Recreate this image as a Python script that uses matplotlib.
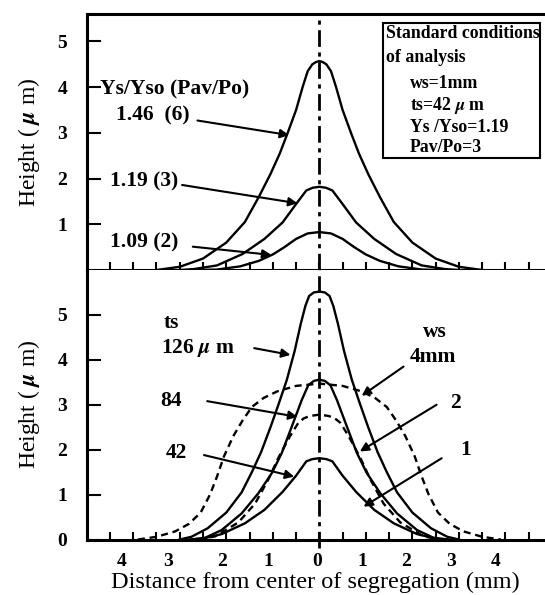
import matplotlib
matplotlib.use('Agg')
import matplotlib.pyplot as plt
from matplotlib.patches import Rectangle

plt.rcParams['font.family'] = ['Liberation Serif', 'DejaVu Serif']
plt.rcParams['font.weight'] = 'bold'
plt.rcParams['mathtext.fontset'] = 'stix'

# ---------------- data ----------------
# Top panel: effect of Ys/Yso (Pav/Po)
top_x_146 = [-3.5, -3.0, -2.5, -2.0, -1.6, -1.3, -1.05, -0.85, -0.68, -0.5, -0.36, -0.25, -0.15, -0.07, 0.0,
             0.07, 0.15, 0.25, 0.36, 0.5, 0.68, 0.85, 1.05, 1.3, 1.6, 2.0, 2.5, 3.0, 3.5]
top_y_146 = [0.0, 0.07, 0.25, 0.6, 1.05, 1.6, 2.1, 2.55, 3.0, 3.5, 4.0, 4.35, 4.5, 4.55, 4.57,
             4.55, 4.5, 4.35, 4.0, 3.5, 3.0, 2.55, 2.1, 1.6, 1.05, 0.6, 0.25, 0.07, 0.0]

top_x_119 = [-3.0, -2.7, -2.2, -1.65, -1.18, -0.79, -0.48, -0.28, -0.14, 0.0,
             0.14, 0.28, 0.48, 0.79, 1.18, 1.65, 2.2, 2.7, 3.0]
top_y_119 = [0.0, 0.02, 0.1, 0.35, 0.68, 1.04, 1.47, 1.74, 1.8, 1.82,
             1.8, 1.74, 1.47, 1.04, 0.68, 0.35, 0.1, 0.02, 0.0]

top_x_109 = [-2.6, -2.2, -1.7, -1.3, -1.0, -0.75, -0.5, -0.25, 0.0,
             0.25, 0.5, 0.75, 1.0, 1.3, 1.7, 2.2, 2.6]
top_y_109 = [0.0, 0.01, 0.08, 0.2, 0.34, 0.5, 0.68, 0.8, 0.83,
             0.8, 0.68, 0.5, 0.34, 0.2, 0.08, 0.01, 0.0]

# Bottom panel: effect of ts (solid) and ws (dashed)
bot_x_ts126 = [-3.0, -2.75, -2.4, -2.0, -1.67, -1.45, -1.25, -1.05, -0.88, -0.7, -0.53, -0.4, -0.3, -0.22, -0.12, 0.0,
               0.12, 0.22, 0.3, 0.4, 0.53, 0.7, 0.88, 1.05, 1.25, 1.45, 1.67, 2.0, 2.4, 2.75, 3.0]
bot_y_ts126 = [0.0, 0.06, 0.25, 0.6, 1.05, 1.5, 1.95, 2.5, 3.0, 3.55, 4.2, 4.8, 5.2, 5.42, 5.5, 5.52,
               5.5, 5.42, 5.2, 4.8, 4.2, 3.55, 3.0, 2.5, 1.95, 1.5, 1.05, 0.6, 0.25, 0.06, 0.0]

bot_x_ts84 = [-2.75, -2.45, -2.1, -1.67, -1.31, -1.02, -0.81, -0.59, -0.38, -0.24, -0.12, 0.0,
              0.12, 0.24, 0.38, 0.59, 0.81, 1.02, 1.31, 1.67, 2.1, 2.45, 2.75]
bot_y_ts84 = [0.0, 0.04, 0.21, 0.58, 1.03, 1.48, 1.92, 2.52, 3.1, 3.43, 3.53, 3.56,
              3.53, 3.43, 3.1, 2.52, 1.92, 1.48, 1.03, 0.58, 0.21, 0.04, 0.0]

bot_x_ts42 = [-2.8, -2.5, -2.1, -1.6, -1.18, -0.79, -0.5, -0.28, -0.15, 0.0,
              0.15, 0.28, 0.5, 0.79, 1.18, 1.6, 2.1, 2.5, 2.8]
bot_y_ts42 = [0.0, 0.02, 0.12, 0.36, 0.66, 1.06, 1.42, 1.74, 1.79, 1.81,
              1.79, 1.74, 1.42, 1.06, 0.66, 0.36, 0.12, 0.02, 0.0]

bot_x_ws4 = [-3.9, -3.5, -3.1, -2.8, -2.55, -2.35, -2.2, -2.05, -1.85, -1.65, -1.45, -1.2, -0.9, -0.5, 0.0,
             0.5, 0.9, 1.2, 1.45, 1.65, 1.85, 2.05, 2.2, 2.35, 2.55, 2.8, 3.1, 3.5, 3.9]
bot_y_ws4 = [0.0, 0.06, 0.18, 0.35, 0.6, 1.0, 1.4, 1.85, 2.3, 2.65, 2.95, 3.15, 3.3, 3.42, 3.47,
             3.42, 3.3, 3.15, 2.95, 2.65, 2.3, 1.85, 1.4, 1.0, 0.6, 0.35, 0.18, 0.06, 0.0]

bot_x_ws2 = [-2.6, -2.24, -1.74, -1.38, -1.09, -0.88, -0.63, -0.45, -0.33, -0.2, 0.0,
             0.2, 0.33, 0.45, 0.63, 0.88, 1.09, 1.38, 1.74, 2.24, 2.6]
bot_y_ws2 = [0.0, 0.07, 0.38, 0.8, 1.35, 1.82, 2.3, 2.6, 2.7, 2.75, 2.78,
             2.75, 2.7, 2.6, 2.3, 1.82, 1.35, 0.8, 0.38, 0.07, 0.0]

# Tick labels
x_label_pos = [-4.25, -3.25, -2.1, -1.1, -0.05, 0.92, 1.87, 2.83, 3.78]
x_label_txt = ['4', '3', '2', '1', '0', '1', '2', '3', '4']
x_minor = [k * 0.5 for k in range(-9, 10)]
top_yticks = [1, 2, 3, 4, 5]
bot_yticks = [0, 1, 2, 3, 4, 5]

# ---------------- figure ----------------
W, H = 545, 595
fig = plt.figure(figsize=(W / 100, H / 100), dpi=100)
left = 86.7 / W
ax1 = fig.add_axes([left, 1 - 270 / H, 1 - left, (270 - 14) / H])
ax2 = fig.add_axes([left, 1 - 539.5 / H, 1 - left, (539.5 - 270) / H])

FS = 14
SPW = 2.2
YLAB = 'Height ( $\\mu$ m)'
for ax in (ax1, ax2):
    ax.set_xlim(-5.0, 4.85)
    ax.spines['right'].set_visible(False)
    for s in ('left', 'top', 'bottom'):
        ax.spines[s].set_linewidth(SPW)
    ax.set_xticks(x_minor, minor=True)
    ax.tick_params(axis='x', which='minor', direction='in', length=6, width=1.5, top=False)
    ax.tick_params(axis='y', which='major', direction='in', length=10, width=1.5,
                   labelsize=FS, pad=14)
    ax.set_ylabel(YLAB, fontsize=17)
    ax.yaxis.set_label_coords(-0.098, 0.5)

ax2.spines['top'].set_visible(False)

ax1.set_ylim(0, 5.6)
ax1.set_yticks(top_yticks)
ax1.set_xticks([])
ax2.set_ylim(0, 6.0)
ax2.set_yticks(bot_yticks)
ax2.set_xticks(x_label_pos, labels=x_label_txt)
ax2.tick_params(axis='x', which='major', length=0, labelsize=FS, pad=10)
ax2.set_xlabel('Distance from center of segregation (mm)', fontsize=17.5, labelpad=1)

LW = 1.7
# top curves
ax1.plot(top_x_146, top_y_146, color='k', lw=LW, solid_joinstyle='round')
ax1.plot(top_x_119, top_y_119, color='k', lw=LW, solid_joinstyle='round')
ax1.plot(top_x_109, top_y_109, color='k', lw=LW, solid_joinstyle='round')
# bottom curves
ax2.plot(bot_x_ts126, bot_y_ts126, color='k', lw=LW, solid_joinstyle='round')
ax2.plot(bot_x_ts84, bot_y_ts84, color='k', lw=LW, solid_joinstyle='round')
ax2.plot(bot_x_ts42, bot_y_ts42, color='k', lw=LW, solid_joinstyle='round')
ax2.plot(bot_x_ws4, bot_y_ws4, color='k', lw=LW, dashes=(3, 2))
ax2.plot(bot_x_ws2, bot_y_ws2, color='k', lw=LW, dashes=(3, 2))

# centre line
ax1.axvline(0, color='k', lw=2.0, dashes=(6, 2, 1.5, 2))
ax2.axvline(0, ymin=-0.03, ymax=1, color='k', lw=2.0, dashes=(6, 2, 1.5, 2), clip_on=False)

arrow = dict(arrowstyle='-|>', color='k', lw=1.5, mutation_scale=13, shrinkA=0, shrinkB=0)
AFS = 15.5

# top annotations
ax1.text(-4.72, 3.94, 'Ys/Yso (Pav/Po)', fontsize=AFS, va='center', ha='left')
ax1.text(-4.38, 3.39, '1.46  (6)', fontsize=AFS, va='center', ha='left')
ax1.annotate('', xy=(-0.65, 2.95), xytext=(-2.62, 3.27), arrowprops=arrow)
ax1.text(-4.5, 1.93, '1.19 (3)', fontsize=AFS, va='center', ha='left')
ax1.annotate('', xy=(-0.47, 1.46), xytext=(-2.95, 1.86), arrowprops=arrow)
ax1.text(-4.5, 0.6, '1.09 (2)', fontsize=AFS, va='center', ha='left')
ax1.annotate('', xy=(-1.03, 0.33), xytext=(-2.72, 0.51), arrowprops=arrow)

# box
BFS = 12.8
ax1.add_patch(Rectangle((1.37, 2.45), 4.74 - 1.37, 5.41 - 2.45, fill=False, lw=1.5, color='k'))
ax1.text(1.44, 5.18, 'Standard conditions', fontsize=BFS, va='center', ha='left')
ax1.text(1.44, 4.64, 'of analysis', fontsize=BFS, va='center', ha='left')
ax1.text(1.95, 4.07, 'ws=1mm', fontsize=BFS, va='center', ha='left')
ax1.text(1.95, 3.59, 'ts=42 $\\mu$ m', fontsize=BFS, va='center', ha='left')
ax1.text(1.95, 3.12, 'Ys /Yso=1.19', fontsize=BFS, va='center', ha='left')
ax1.text(1.95, 2.68, 'Pav/Po=3', fontsize=BFS, va='center', ha='left')

# bottom annotations
ax2.text(-3.35, 4.82, 'ts', fontsize=AFS, va='center', ha='left')
ax2.text(-3.40, 4.26, '126 $\\mu$ m', fontsize=AFS, va='center', ha='left')
ax2.annotate('', xy=(-0.62, 4.11), xytext=(-1.40, 4.26), arrowprops=arrow)
ax2.text(-3.19, 3.08, '84', fontsize=AFS, va='center', ha='center')
ax2.annotate('', xy=(-0.47, 2.73), xytext=(-2.41, 3.08), arrowprops=arrow)
ax2.text(-3.08, 1.93, '42', fontsize=AFS, va='center', ha='center')
ax2.annotate('', xy=(-0.54, 1.40), xytext=(-2.48, 1.88), arrowprops=arrow)
ax2.text(2.48, 4.61, 'ws', fontsize=AFS, va='center', ha='center')
ax2.text(2.44, 4.07, '4mm', fontsize=AFS, va='center', ha='center')
ax2.annotate('', xy=(0.91, 3.20), xytext=(1.81, 3.85), arrowprops=arrow)
ax2.text(2.92, 3.05, '2', fontsize=AFS, va='center', ha='center')
ax2.annotate('', xy=(0.87, 1.96), xytext=(2.52, 3.0), arrowprops=arrow)
ax2.text(3.15, 1.99, '1', fontsize=AFS, va='center', ha='center')
ax2.annotate('', xy=(0.95, 0.73), xytext=(2.63, 1.81), arrowprops=arrow)

fig.savefig('out.png', dpi=100)
